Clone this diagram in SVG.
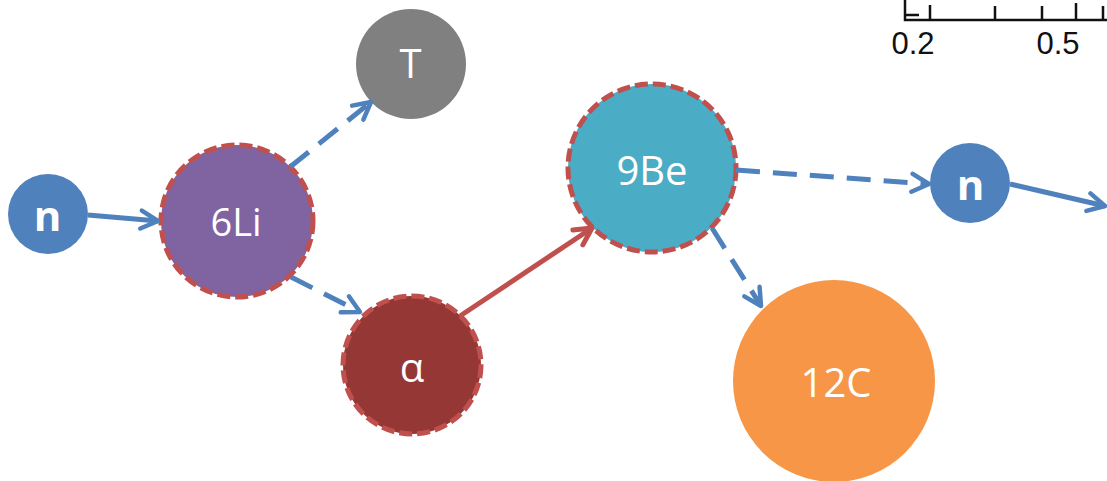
<svg xmlns="http://www.w3.org/2000/svg" width="1107" height="481" viewBox="0 0 1107 481">
  <style>
    .node-label { font-family: "Open Sans", "Noto Sans", sans-serif; fill: #ffffff; text-anchor: middle; }
    .bold { font-weight: bold; }
    .dashed-border { stroke: #C0504D; stroke-width: 5; stroke-dasharray: 13 5; }
    .link { fill: none; stroke-width: 5; }
    .blue { stroke: #4F81BD; }
    .red { stroke: #C0504D; }
    .dash { stroke-dasharray: 24 13; }
    .axis { stroke: #111111; stroke-width: 2.5; fill: none; }
    .axis-label { font-family: "Liberation Sans", Arial, sans-serif; font-size: 31px; fill: #111111; text-anchor: middle; }
  </style>
  <defs>
    <marker id="head-blue" viewBox="0 0 24 24" refX="21" refY="12" markerWidth="24" markerHeight="24" markerUnits="userSpaceOnUse" orient="auto">
      <path d="M4,3 L21,12 L4,21" fill="none" stroke="#4F81BD" stroke-width="4.5" stroke-linecap="round" stroke-linejoin="round"/>
    </marker>
    <marker id="head-red" viewBox="0 0 24 24" refX="21" refY="12" markerWidth="24" markerHeight="24" markerUnits="userSpaceOnUse" orient="auto">
      <path d="M4,3 L21,12 L4,21" fill="none" stroke="#C0504D" stroke-width="5" stroke-linecap="round" stroke-linejoin="round"/>
    </marker>
  </defs>

  <!-- scale bar fragment, top right -->
  <g id="scale">
    <path class="axis" d="M905,0 V20 H1107 M905,15 H919 M930,5 V20 M995,6 V20 M1042,6 V20 M1076,3 V20 M1103,6 V20"/>
    <text class="axis-label" x="913" y="54">0.2</text>
    <text class="axis-label" x="1058" y="54">0.5</text>
  </g>

  <g id="n-in">
    <circle cx="48" cy="214" r="40" fill="#4F81BD"/>
    <text class="node-label bold" x="47.5" y="231" font-size="42">n</text>
  </g>

  <g id="li6">
    <circle cx="237" cy="221" r="76" fill="#8064A2" class="dashed-border"/>
    <text class="node-label" x="236" y="236" font-size="38">6Li</text>
  </g>

  <g id="tritium">
    <circle cx="411" cy="64" r="55" fill="#808080"/>
    <text class="node-label" x="410.5" y="78" font-size="40">T</text>
  </g>

  <g id="alpha">
    <circle cx="412" cy="365" r="69" fill="#953735" class="dashed-border"/>
    <text class="node-label" x="412" y="382" font-size="40">α</text>
  </g>

  <g id="be9">
    <circle cx="652" cy="168" r="84" fill="#4BACC6" class="dashed-border"/>
    <text class="node-label" x="652" y="185" font-size="40">9Be</text>
  </g>

  <g id="n-out">
    <circle cx="970" cy="183" r="40" fill="#4F81BD"/>
    <text class="node-label bold" x="970.5" y="200" font-size="42">n</text>
  </g>

  <g id="c12">
    <circle cx="834" cy="381" r="101" fill="#F79646"/>
    <text class="node-label" x="836" y="397" font-size="40">12C</text>
  </g>

  <g id="connectors">
    <line class="link blue" x1="88" y1="215" x2="158" y2="221" stroke-width="4" marker-end="url(#head-blue)"/>
    <line class="link blue dash" x1="290" y1="167" x2="371" y2="102" marker-end="url(#head-blue)"/>
    <line class="link blue dash" x1="291" y1="277" x2="360" y2="312" marker-end="url(#head-blue)"/>
    <line class="link red" x1="460" y1="316" x2="592" y2="228" marker-end="url(#head-red)"/>
    <line class="link blue dash" x1="736" y1="170" x2="929" y2="184" marker-end="url(#head-blue)"/>
    <line class="link blue dash" x1="712" y1="228" x2="761" y2="306" marker-end="url(#head-blue)"/>
    <line class="link blue" x1="1010" y1="184" x2="1105" y2="206" stroke-width="4" marker-end="url(#head-blue)"/>
  </g>
</svg>
